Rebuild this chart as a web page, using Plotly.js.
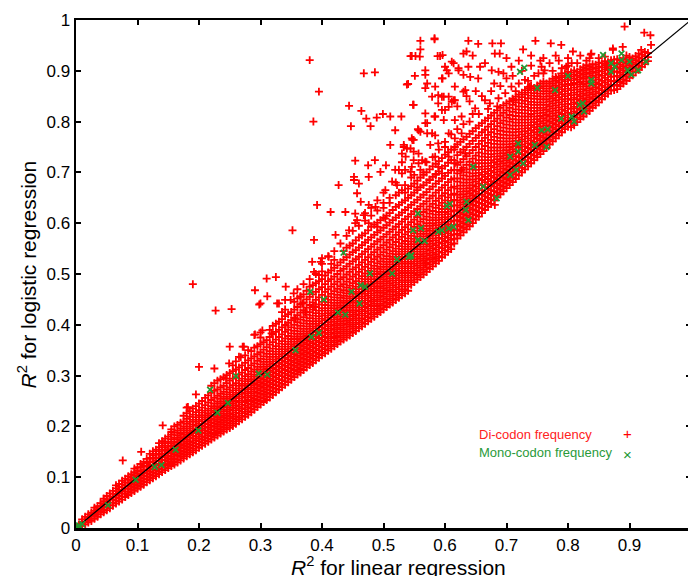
<!DOCTYPE html>
<html><head><meta charset="utf-8">
<script src="https://cdn.plot.ly/plotly-3.0.1.min.js"></script>
<style>html,body{margin:0;padding:0;overflow:hidden;background:#fff}#chart{width:700px;height:576px}</style>
</head><body><div id="chart"></div>
<script>
// Di-codon frequency: dense band, read column by column (x, then y values of the points in that column)
const diBandLow = [
[.01,.004,.008,.012,.017],
[.02,.011,.016,.021,.027],
[.03,.018,.024,.029,.034,.04],
[.04,.027,.033,.038,.043,.049],
[.05,.035,.041,.046,.052,.057,.063],
[.06,.044,.05,.056,.061,.067,.073],
[.07,.052,.058,.064,.069,.075,.081,.087],
[.08,.061,.067,.072,.078,.084,.09,.097],
[.09,.069,.075,.081,.087,.093,.099,.106],
[.10,.077,.083,.089,.095,.101,.107,.113,.12],
[.11,.085,.091,.097,.103,.109,.115,.122,.13],
[.12,.094,.1,.106,.112,.118,.124,.131,.138,.146],
[.13,.102,.108,.114,.12,.126,.132,.139,.146,.154],
[.14,.11,.116,.122,.128,.134,.14,.147,.154,.162,.171],
[.15,.118,.124,.13,.136,.142,.149,.155,.162,.17,.18],
[.16,.125,.131,.137,.144,.15,.157,.163,.17,.178,.188,.2],
[.17,.133,.14,.146,.152,.159,.165,.172,.179,.187,.196,.207],
[.18,.141,.148,.154,.161,.167,.174,.181,.188,.196,.205,.215,.226],
[.19,.149,.156,.162,.169,.176,.182,.189,.196,.204,.213,.223,.235],
[.20,.158,.164,.171,.177,.184,.191,.198,.205,.213,.222,.232,.245],
[.21,.166,.172,.179,.186,.192,.199,.206,.214,.222,.231,.242,.256],
[.22,.174,.181,.187,.194,.201,.208,.215,.222,.231,.24,.252,.266,.28],
[.23,.182,.189,.196,.203,.21,.217,.224,.232,.24,.249,.26,.273,.29],
[.24,.19,.197,.204,.211,.218,.225,.233,.241,.249,.258,.268,.28,.297],
[.25,.197,.205,.212,.219,.226,.234,.242,.25,.258,.267,.277,.29,.305],
[.26,.205,.213,.22,.227,.235,.242,.25,.258,.266,.275,.285,.297,.312,.328],
[.27,.214,.221,.229,.236,.243,.251,.259,.267,.275,.284,.294,.306,.32],
[.28,.223,.23,.238,.245,.252,.26,.268,.276,.284,.293,.303,.315,.33,.35],
[.29,.233,.24,.247,.254,.261,.269,.277,.285,.293,.302,.312,.324,.338,.355],
[.30,.243,.25,.257,.264,.271,.279,.287,.295,.303,.312,.322,.333,.346,.362,.375]
];
const diBandLowB = [
[.005,.003,.007],
[.015,.007,.012,.017,.022],
[.025,.014,.019,.024,.03],
[.035,.022,.027,.032,.037,.043],
[.045,.031,.036,.041,.047,.053,.058],
[.055,.039,.045,.05,.056,.062,.068],
[.065,.048,.054,.06,.066,.072,.078,.084],
[.075,.056,.062,.068,.074,.08,.086,.093],
[.085,.065,.071,.077,.083,.089,.095,.102],
[.095,.073,.079,.085,.091,.097,.103,.11,.117],
[.105,.081,.087,.093,.099,.105,.112,.119,.126],
[.115,.09,.096,.102,.108,.114,.121,.128,.136],
[.125,.098,.104,.11,.116,.122,.129,.136,.143,.151],
[.135,.106,.112,.118,.124,.131,.137,.144,.151,.159,.167],
[.145,.114,.12,.126,.133,.139,.146,.152,.159,.167,.176],
[.155,.122,.128,.134,.14,.147,.153,.16,.167,.175,.184,.194],
[.165,.129,.135,.142,.148,.155,.161,.168,.175,.183,.192,.203],
[.175,.137,.144,.15,.157,.163,.17,.177,.184,.192,.2,.21,.221],
[.185,.145,.152,.158,.165,.171,.178,.185,.192,.2,.209,.219,.23],
[.195,.153,.16,.166,.173,.18,.187,.194,.201,.209,.218,.228,.24],
[.205,.162,.168,.175,.181,.188,.195,.202,.21,.218,.227,.237,.25],
[.215,.17,.176,.183,.19,.197,.204,.211,.218,.226,.235,.247,.261],
[.225,.178,.185,.192,.199,.206,.213,.22,.228,.236,.245,.256,.27,.285],
[.235,.186,.193,.2,.207,.214,.221,.229,.237,.245,.254,.264,.277,.293],
[.245,.194,.201,.208,.215,.222,.23,.238,.246,.254,.263,.273,.285,.301],
[.255,.201,.209,.216,.223,.231,.238,.246,.254,.262,.271,.281,.294,.309,.32],
[.265,.21,.217,.225,.232,.239,.247,.255,.263,.271,.28,.29,.302,.316],
[.275,.219,.226,.234,.241,.248,.256,.264,.272,.28,.289,.299,.311,.325,.34],
[.285,.228,.235,.243,.25,.257,.265,.273,.281,.289,.298,.308,.32,.334,.348],
[.295,.238,.245,.252,.259,.266,.274,.282,.29,.298,.307,.317,.329,.342,.358]
];
const diBandMid = [
[.31,.252,.259,.266,.273,.281,.289,.297,.305,.313,.322,.332,.343,.356,.37],
[.32,.262,.269,.276,.283,.291,.299,.307,.315,.323,.332,.342,.353,.366,.381,.398],
[.33,.272,.279,.286,.293,.301,.309,.317,.325,.333,.342,.352,.363,.376,.39,.406],
[.34,.282,.289,.296,.304,.311,.319,.327,.335,.343,.352,.362,.373,.386,.4,.417,.43],
[.35,.292,.299,.306,.314,.321,.329,.337,.345,.353,.362,.372,.383,.395,.409,.425],
[.36,.302,.309,.316,.324,.331,.339,.347,.355,.363,.372,.382,.393,.405,.419,.435,.452],
[.37,.311,.318,.326,.333,.341,.349,.357,.365,.373,.382,.392,.403,.415,.429,.444,.46],
[.38,.321,.328,.336,.343,.351,.359,.367,.375,.383,.392,.402,.413,.425,.439,.455,.475],
[.39,.33,.338,.345,.353,.361,.369,.377,.385,.393,.402,.412,.423,.435,.449,.465,.482],
[.40,.34,.347,.355,.363,.371,.379,.387,.395,.403,.412,.422,.433,.445,.459,.474,.49,.505],
[.41,.349,.357,.365,.373,.381,.389,.397,.405,.414,.423,.433,.444,.456,.47,.486,.503],
[.42,.358,.366,.374,.382,.39,.398,.406,.415,.424,.433,.443,.454,.466,.48,.495,.512,.528],
[.43,.367,.375,.383,.391,.399,.407,.416,.425,.434,.443,.453,.464,.476,.49,.506,.523],
[.44,.375,.383,.391,.4,.408,.416,.425,.434,.443,.452,.462,.473,.485,.499,.515,.533,.552],
[.45,.384,.392,.4,.409,.417,.425,.434,.443,.452,.461,.471,.482,.495,.509,.525,.543,.56],
[.46,.393,.401,.409,.418,.426,.434,.443,.452,.461,.47,.48,.491,.504,.518,.534,.552,.572],
[.47,.402,.41,.418,.427,.435,.443,.452,.461,.47,.48,.49,.501,.514,.528,.544,.562,.58],
[.48,.412,.42,.428,.437,.445,.453,.462,.471,.48,.49,.5,.511,.524,.538,.554,.572,.593],
[.49,.421,.429,.437,.446,.454,.463,.472,.481,.49,.5,.51,.521,.534,.548,.564,.582,.601],
[.50,.43,.438,.446,.455,.463,.472,.481,.49,.499,.509,.519,.53,.543,.557,.573,.591,.611],
[.51,.44,.448,.456,.465,.473,.482,.491,.5,.509,.519,.529,.54,.553,.567,.583,.601,.62],
[.52,.449,.457,.465,.474,.483,.492,.501,.51,.519,.529,.539,.55,.563,.577,.593,.611,.632],
[.53,.458,.466,.475,.484,.493,.502,.511,.52,.529,.539,.549,.56,.573,.587,.603,.621,.641],
[.54,.467,.475,.484,.493,.502,.511,.52,.529,.539,.549,.559,.57,.583,.597,.613,.631,.65,.668],
[.55,.484,.493,.502,.511,.52,.529,.539,.549,.559,.569,.58,.593,.607,.623,.641,.66,.678],
[.56,.494,.503,.512,.521,.53,.539,.549,.559,.569,.579,.59,.603,.617,.633,.651,.671,.69],
[.57,.504,.513,.522,.531,.54,.549,.559,.569,.579,.589,.6,.613,.627,.643,.661,.68,.7],
[.58,.515,.524,.533,.542,.551,.56,.57,.58,.59,.6,.611,.624,.638,.654,.672,.691,.712],
[.59,.526,.535,.544,.553,.562,.571,.581,.591,.601,.611,.622,.635,.649,.665,.683,.702,.722],
[.60,.538,.547,.556,.565,.574,.583,.592,.602,.612,.622,.633,.645,.659,.675,.693,.713,.735]
];
const diBandMidB = [
[.305,.248,.255,.262,.269,.276,.284,.292,.3,.308,.317,.327,.338,.351,.366],
[.315,.257,.264,.271,.278,.286,.294,.302,.31,.318,.327,.337,.348,.361,.376,.39],
[.325,.267,.274,.281,.288,.296,.304,.312,.32,.328,.337,.347,.358,.371,.386,.402],
[.335,.277,.284,.291,.299,.306,.314,.322,.33,.338,.347,.357,.368,.381,.395,.411,.425],
[.345,.287,.294,.301,.309,.316,.324,.332,.34,.348,.357,.367,.378,.39,.404,.421],
[.355,.297,.304,.311,.319,.326,.334,.342,.35,.358,.367,.377,.388,.4,.414,.43,.445],
[.365,.306,.313,.321,.328,.336,.344,.352,.36,.368,.377,.387,.398,.41,.424,.44,.456],
[.375,.316,.323,.331,.338,.346,.354,.362,.37,.378,.387,.397,.408,.42,.434,.45,.467],
[.385,.325,.333,.34,.348,.356,.364,.372,.38,.388,.397,.407,.418,.43,.444,.46,.478],
[.395,.335,.342,.35,.358,.366,.374,.382,.39,.398,.407,.417,.428,.44,.454,.47,.486,.498],
[.405,.344,.352,.36,.368,.376,.384,.392,.4,.409,.418,.428,.439,.451,.465,.48,.497],
[.415,.353,.361,.369,.377,.385,.393,.401,.41,.419,.428,.438,.449,.461,.475,.49,.507,.52],
[.425,.362,.37,.378,.386,.394,.402,.411,.42,.429,.438,.448,.459,.471,.485,.5,.517],
[.435,.371,.379,.387,.395,.403,.412,.42,.429,.438,.447,.457,.468,.48,.494,.51,.528,.545],
[.445,.379,.387,.396,.404,.412,.42,.429,.438,.447,.456,.466,.477,.49,.504,.52,.538,.556],
[.455,.388,.396,.404,.413,.421,.429,.438,.447,.456,.465,.475,.486,.499,.513,.529,.547,.566],
[.465,.397,.405,.413,.422,.43,.438,.447,.456,.465,.475,.485,.496,.509,.523,.539,.557,.576],
[.475,.407,.415,.423,.432,.44,.448,.457,.466,.475,.485,.495,.506,.519,.533,.549,.567,.586],
[.485,.416,.424,.432,.441,.449,.458,.467,.476,.485,.495,.505,.516,.529,.543,.559,.577,.597],
[.495,.425,.433,.441,.45,.458,.467,.476,.485,.494,.504,.514,.525,.538,.552,.568,.586,.606],
[.505,.435,.443,.451,.46,.468,.477,.486,.495,.504,.514,.524,.535,.548,.562,.578,.596,.615],
[.515,.444,.452,.46,.469,.478,.487,.496,.505,.514,.524,.534,.545,.558,.572,.588,.606,.626],
[.525,.453,.461,.47,.479,.488,.497,.506,.515,.524,.534,.544,.555,.568,.582,.598,.616,.636],
[.535,.462,.47,.479,.488,.497,.506,.515,.524,.534,.544,.554,.565,.578,.592,.608,.626,.645,.66],
[.545,.479,.488,.497,.506,.515,.524,.534,.544,.554,.564,.575,.588,.602,.618,.636,.655,.673],
[.555,.489,.498,.507,.516,.525,.534,.544,.554,.564,.574,.585,.598,.612,.628,.646,.665,.684],
[.565,.499,.508,.517,.526,.535,.544,.554,.564,.574,.584,.595,.608,.622,.638,.656,.675,.695],
[.575,.51,.519,.528,.537,.546,.555,.565,.575,.585,.595,.606,.619,.633,.649,.667,.686,.706],
[.585,.521,.53,.539,.548,.557,.566,.576,.586,.596,.606,.617,.63,.644,.66,.678,.697,.717],
[.595,.533,.542,.551,.56,.569,.578,.587,.597,.607,.617,.628,.64,.654,.67,.688,.708,.728]
];
const diBandHigh = [
[.61,.549,.558,.567,.576,.585,.594,.603,.613,.623,.633,.644,.656,.67,.686,.704,.724,.745],
[.62,.57,.579,.588,.597,.606,.615,.625,.635,.645,.656,.668,.682,.698,.715,.734,.755],
[.63,.582,.591,.6,.609,.618,.627,.637,.647,.657,.668,.68,.694,.709,.726,.745,.765],
[.64,.594,.603,.612,.621,.63,.639,.649,.659,.669,.68,.692,.706,.721,.738,.756,.776],
[.65,.607,.616,.625,.634,.643,.652,.662,.672,.682,.693,.705,.718,.733,.75,.768,.787],
[.66,.62,.629,.638,.647,.656,.665,.675,.685,.695,.706,.718,.731,.746,.762,.779,.797],
[.67,.632,.641,.65,.659,.668,.677,.687,.697,.707,.718,.73,.743,.758,.774,.79,.807],
[.68,.645,.654,.663,.672,.681,.69,.7,.71,.72,.731,.743,.756,.77,.785,.801,.817],
[.69,.657,.666,.675,.684,.693,.702,.712,.722,.732,.743,.755,.768,.782,.797,.812,.827],
[.70,.669,.678,.687,.696,.705,.714,.724,.734,.744,.755,.767,.78,.794,.808,.822,.836],
[.71,.681,.69,.699,.708,.717,.726,.736,.746,.756,.767,.779,.792,.805,.819,.833,.845],
[.72,.694,.703,.712,.721,.73,.739,.749,.759,.769,.78,.792,.804,.817,.83,.843,.853],
[.73,.706,.715,.724,.733,.742,.751,.761,.771,.781,.792,.804,.816,.829,.841,.853,.862],
[.74,.718,.727,.736,.745,.754,.763,.773,.783,.793,.804,.815,.827,.839,.851,.862,.87],
[.75,.73,.739,.748,.757,.766,.775,.785,.795,.805,.816,.827,.838,.85,.861,.871],
[.76,.742,.751,.76,.769,.778,.787,.797,.807,.817,.827,.838,.849,.86,.87,.879],
[.77,.755,.764,.773,.782,.791,.8,.81,.82,.83,.84,.85,.86,.87,.879],
[.78,.767,.776,.785,.794,.803,.812,.822,.832,.842,.852,.862,.871,.88,.888],
[.79,.779,.788,.797,.806,.815,.824,.834,.844,.854,.864,.873,.882,.89],
[.80,.79,.799,.808,.817,.826,.835,.845,.855,.865,.874,.883,.891,.898],
[.81,.793,.802,.811,.82,.829,.838,.847,.857,.867,.876,.885,.893,.901],
[.82,.805,.814,.823,.832,.841,.85,.859,.869,.878,.887,.895,.903],
[.83,.816,.825,.834,.843,.852,.861,.87,.879,.888,.896,.904,.911],
[.84,.827,.836,.845,.854,.863,.872,.881,.89,.898,.906,.913],
[.85,.838,.847,.856,.865,.874,.883,.892,.9,.908,.916],
[.86,.85,.859,.868,.877,.886,.895,.903,.911,.919],
[.87,.861,.87,.879,.888,.897,.905,.913,.921],
[.88,.864,.872,.881,.89,.899,.907,.915,.923],
[.89,.875,.883,.892,.901,.909,.917,.925],
[.90,.886,.894,.903,.911,.919,.927],
[.91,.897,.905,.913,.921,.929],
[.92,.908,.916,.924,.932],
[.93,.919,.927,.935]
];
const diBandHighB = [
[.605,.544,.553,.562,.571,.58,.589,.598,.608,.618,.628,.639,.651,.665,.681,.699,.719,.74],
[.615,.56,.569,.578,.587,.596,.605,.615,.625,.635,.646,.658,.672,.688,.705,.724,.745],
[.625,.576,.585,.594,.603,.612,.621,.631,.641,.651,.662,.674,.688,.703,.72,.74,.76],
[.635,.588,.597,.606,.615,.624,.633,.643,.653,.663,.674,.686,.7,.715,.732,.75,.77],
[.645,.6,.609,.618,.627,.636,.645,.655,.665,.675,.686,.698,.712,.727,.744,.762,.781],
[.655,.613,.622,.631,.64,.649,.658,.668,.678,.688,.699,.711,.724,.739,.756,.773,.792],
[.665,.626,.635,.644,.653,.662,.671,.681,.691,.701,.712,.724,.737,.752,.768,.784,.802],
[.675,.638,.647,.656,.665,.674,.683,.693,.703,.713,.724,.736,.749,.764,.779,.795,.812],
[.685,.651,.66,.669,.678,.687,.696,.706,.716,.726,.737,.749,.762,.776,.791,.806,.822],
[.695,.663,.672,.681,.69,.699,.708,.718,.728,.738,.749,.761,.774,.788,.802,.817,.832],
[.705,.675,.684,.693,.702,.711,.72,.73,.74,.75,.761,.773,.786,.8,.813,.827,.84],
[.715,.687,.696,.705,.714,.723,.732,.742,.752,.762,.773,.785,.798,.811,.824,.838,.849],
[.725,.7,.709,.718,.727,.736,.745,.755,.765,.775,.786,.798,.81,.823,.836,.848,.857],
[.735,.712,.721,.73,.739,.748,.757,.767,.777,.787,.798,.81,.822,.834,.846,.857,.866],
[.745,.724,.733,.742,.751,.76,.769,.779,.789,.799,.81,.821,.833,.845,.856,.866],
[.755,.736,.745,.754,.763,.772,.781,.791,.801,.811,.822,.833,.844,.855,.866,.875],
[.765,.748,.757,.766,.775,.784,.793,.803,.813,.823,.833,.844,.855,.865,.875],
[.775,.761,.77,.779,.788,.797,.806,.816,.826,.836,.846,.856,.866,.875,.884],
[.785,.773,.782,.791,.8,.809,.818,.828,.838,.848,.858,.868,.877,.886],
[.795,.785,.794,.803,.812,.821,.83,.84,.85,.86,.87,.879,.887,.895],
[.805,.789,.798,.807,.816,.825,.834,.843,.852,.862,.872,.881,.889,.897],
[.815,.799,.808,.817,.826,.835,.844,.853,.863,.873,.882,.89,.898],
[.825,.81,.819,.828,.837,.846,.855,.864,.874,.884,.892,.9,.907],
[.835,.821,.83,.839,.848,.857,.866,.876,.886,.894,.902,.909],
[.845,.832,.841,.85,.859,.868,.877,.887,.896,.904,.912],
[.855,.844,.853,.862,.871,.88,.89,.899,.907,.915],
[.865,.855,.864,.873,.882,.892,.901,.909,.917],
[.875,.862,.871,.88,.889,.898,.906,.914,.922],
[.885,.87,.878,.887,.896,.904,.912,.92],
[.895,.88,.889,.898,.906,.914,.922,.93],
[.905,.891,.899,.908,.916,.924],
[.915,.902,.91,.918,.926,.934],
[.925,.913,.921,.929,.937]
];
// Di-codon frequency: scattered points above the band
const diOutliers = [
[.076,.133],[.106,.15],[.141,.202],[.141,.17],[.155,.189],[.182,.238],[.18,.237],[.195,.263],[.2,.317],[.225,.314],
[.227,.428],[.253,.431],[.19,.48],[.25,.357],[.268,.336],[.249,.324],[.244,.294],[.273,.357],[.265,.337],[.291,.468],
[.298,.44],[.31,.491],[.325,.494],[.311,.456],[.29,.38],[.30,.385],[.327,.442],[.341,.475],[.34,.449],[.354,.462],
[.271,.357],[.291,.381],[.303,.389],[.318,.383],[.341,.399],[.357,.412],[.373,.425],[.387,.435],[.30,.442],[.33,.442],
[.349,.449],[.365,.455],[.368,.442],[.352,.586],[.387,.567],[.422,.577],[.444,.586],[.454,.60],[.457,.606],[.476,.60],
[.49,.593],[.503,.609],[.40,.531],[.398,.524],[.384,.524],[.387,.504],[.411,.534],[.392,.636],[.414,.622],[.438,.622],
[.454,.619],[.468,.616],[.427,.675],[.452,.685],[.46,.678],[.457,.659],[.463,.642],[.476,.636],[.487,.632],[.503,.665],
[.514,.682],[.522,.675],[.454,.723],[.475,.714],[.486,.724],[.504,.714],[.511,.754],[.495,.701],[.533,.754],[.53,.737],
[.544,.747],[.549,.764],[.56,.78],[.519,.705],[.53,.698],[.544,.701],[.38,.921],[.395,.859],[.386,.80],[.468,.895],
[.486,.897],[.444,.831],[.464,.821],[.472,.806],[.479,.791],[.447,.791],[.489,.808],[.499,.815],[.511,.81],[.529,.81],
[.519,.783],[.476,.691],[.538,.873],[.551,.89],[.548,.833],[.544,.929],[.552,.929],[.559,.928],[.56,.959],[.56,.942],
[.568,.901],[.568,.892],[.568,.866],[.583,.964],[.588,.929],[.596,.931],[.584,.869],[.596,.885],[.547,.764],[.556,.785],
[.568,.797],[.571,.777],[.583,.81],[.576,.754],[.584,.773],[.589,.757],[.538,.747],[.557,.737],[.549,.724],[.563,.724],
[.525,.705],[.535,.705],[.452,.691],[.60,.908],[.611,.918],[.622,.901],[.63,.934],[.63,.892],[.616,.869],[.633,.862],
[.595,.849],[.606,.849],[.616,.842],[.589,.836],[.60,.823],[.616,.803],[.627,.81],[.598,.803],[.606,.777],[.616,.767],
[.627,.777],[.60,.75],[.616,.75],[.633,.737],[.606,.731],[.616,.718],[.627,.705],[.595,.698],[.583,.962],[.546,.929],
[.592,.929],[.638,.959],[.654,.953],[.635,.938],[.677,.954],[.691,.954],[.681,.934],[.689,.934],[.747,.959],[.772,.954],
[.789,.951],[.727,.942],[.808,.938],[.892,.987],[.924,.975],[.934,.97],[.837,.932],[.873,.944],[.889,.947],[.614,.915],
[.622,.905],[.638,.908],[.657,.908],[.676,.901],[.687,.898],[.708,.908],[.54,.874],[.571,.875],[.595,.885],[.603,.901],
[.606,.895],[.641,.888],[.654,.885],[.63,.859],[.579,.849],[.589,.852],[.598,.849],[.614,.842],[.549,.833],[.595,.823],
[.606,.829],[.611,.839],[.568,.816],[.584,.81],[.546,.767],[.557,.783],[.571,.797],[.579,.777],[.533,.75],[.549,.741],
[.536,.731],[.557,.718],[.546,.711],[.568,.721],[.584,.731],[.589,.711],[.649,.826],[.665,.842],[.673,.836],[.687,.846],
[.698,.856],[.711,.842],[.708,.869],[.73,.882],[.738,.869],[.752,.895],[.757,.908],[.762,.901],[.781,.885],[.789,.895],
[.797,.908],[.806,.915],[.919,.941],[.935,.951],[.873,.941],[.838,.934],[.86,.928],[.862,.911],[.525,.66],[.535,.675],
[.545,.69],[.555,.67],[.565,.70],[.575,.685],[.585,.695],[.53,.72],[.52,.68],[.51,.65],[.50,.66],[.49,.645],
[.48,.63],[.47,.62],[.50,.64],[.584,.531],[.681,.636],[.568,.521],[.72,.92],[.74,.93],[.70,.925],[.76,.925],
[.665,.915],[.645,.93],[.78,.93],[.82,.93],[.85,.925],
[.64,.8],[.655,.815],[.67,.825],[.685,.83],[.66,.85],[.675,.86],[.69,.87],[.7,.885],[.715,.86],[.72,.875],
[.735,.88],[.745,.89],[.76,.895],[.775,.9],[.79,.905],[.8,.91],[.815,.915],[.83,.92],[.62,.785],[.63,.795],
[.645,.815],[.61,.775],[.6,.76],[.59,.745],[.58,.73],[.57,.72],[.56,.705],[.55,.695],[.64,.84],[.65,.86],
[.62,.83],[.635,.85],[.68,.875],[.695,.895],[.71,.89],[.725,.9],[.74,.91],[.77,.915],[.785,.92],[.8,.925],
[.755,.92],[.835,.925],[.42,.545],[.43,.56],[.44,.575],[.45,.585],[.46,.595],[.47,.605],[.48,.615],[.49,.625],
[.5,.63],[.51,.64],[.52,.655],[.53,.665],[.40,.52],[.41,.535],[.38,.49],[.39,.5],[.36,.47],[.37,.48]
];
// Mono-codon frequency points
const monoPoints = [
[0,0],[.003,.002],[.006,.004],[.01,.008],[.005,.005],[.052,.045],[.097,.095],[.128,.12],[.139,.124],[.162,.154],
[.199,.192],[.23,.227],[.247,.246],[.218,.272],[.26,.299],[.297,.304],[.311,.302],[.357,.35],[.383,.376],[.395,.384],
[.381,.465],[.403,.45],[.435,.542],[.426,.424],[.438,.42],[.448,.465],[.461,.442],[.463,.478],[.47,.475],[.478,.501],
[.514,.501],[.522,.529],[.541,.534],[.545,.537],[.556,.619],[.548,.586],[.561,.59],[.567,.565],[.556,.567],[.589,.583],
[.595,.586],[.606,.59],[.614,.593],[.603,.634],[.608,.638],[.544,.535],[.635,.642],[.634,.626],[.638,.606],[.646,.711],
[.662,.672],[.684,.649],[.706,.695],[.716,.705],[.719,.741],[.719,.757],[.727,.718],[.706,.731],[.746,.754],[.757,.783],
[.767,.785],[.765,.75],[.789,.806],[.806,.81],[.81,.80],[.819,.833],[.824,.836],[.826,.82],[.838,.882],[.838,.875],
[.722,.898],[.729,.906],[.75,.866],[.779,.862],[.8,.89],[.857,.931],[.87,.898],[.876,.908],[.887,.921],[.887,.934],
[.9,.918],[.903,.892],[.897,.901],[.914,.901],[.927,.918],[.87,.915]
];
// reference line y = x
const diagX = [0, 1];
const diagY = [0, 1];
// ticks
const xTickVals = [0,.1,.2,.3,.4,.5,.6,.7,.8,.9];
const xTickText = ['0','0.1','0.2','0.3','0.4','0.5','0.6','0.7','0.8','0.9'];
const yTickVals = [0,.1,.2,.3,.4,.5,.6,.7,.8,.9,1];
const yTickText = ['0','0.1','0.2','0.3','0.4','0.5','0.6','0.7','0.8','0.9','1'];
const legendNames = ['Di-codon frequency','Mono-codon frequency'];

function fromColumns(cols, xs, ys){cols.forEach(c=>{for(let i=1;i<c.length;i++){xs.push(c[0]);ys.push(c[i]);}});}
const dx=[], dy=[];
[diBandLow,diBandLowB,diBandMid,diBandMidB,diBandHigh,diBandHighB].forEach(c=>fromColumns(c,dx,dy));
diOutliers.forEach(p=>{dx.push(p[0]);dy.push(p[1]);});
const mx = monoPoints.map(p=>p[0]), my = monoPoints.map(p=>p[1]);

const RED='#ff0000', GREEN='#229933';
const FONT='"Liberation Sans", Arial, sans-serif';
const traces = [
 {type:'scatter',mode:'markers',x:dx,y:dy,name:legendNames[0],hoverinfo:'skip',
  marker:{symbol:'cross-thin-open',size:5.7,color:RED,line:{color:RED,width:1.8}}},
 {type:'scatter',mode:'lines',x:diagX,y:diagY,hoverinfo:'skip',line:{color:'#000',width:1.3}},
 {type:'scatter',mode:'markers',x:mx,y:my,name:legendNames[1],hoverinfo:'skip',
  marker:{symbol:'x-thin-open',size:5.7,color:GREEN,line:{color:GREEN,width:1.7}}}
];
const axisCommon = {range:[0,1],ticks:'inside',ticklen:5,tickwidth:2,tickcolor:'#000',showline:true,linecolor:'#000',linewidth:2.5,
  mirror:'ticks',showgrid:false,zeroline:false,fixedrange:true,tickfont:{family:FONT,size:17,color:'#000'}};
const layout = {
 width:700,height:576,margin:{l:76,r:9,t:20,b:48},paper_bgcolor:'#fff',plot_bgcolor:'#fff',showlegend:false,
 xaxis:Object.assign({},axisCommon,{tickvals:xTickVals,ticktext:xTickText}),
 yaxis:Object.assign({},axisCommon,{tickvals:yTickVals,ticktext:yTickText}),
 annotations:[
  {xref:'paper',yref:'paper',x:0.524,y:-0.075,xanchor:'center',yanchor:'middle',showarrow:false,
   text:'<i>R</i><sup>2</sup> for linear regression',font:{family:FONT,size:21,color:'#000'}},
  {xref:'paper',yref:'paper',x:-0.079,y:0.5,xanchor:'center',yanchor:'middle',showarrow:false,textangle:-90,
   text:'<i>R</i><sup>2</sup> for logistic regression',font:{family:FONT,size:21,color:'#000'}},
  {xref:'paper',yref:'paper',x:0.652,y:0.184,xanchor:'left',yanchor:'middle',showarrow:false,
   text:legendNames[0],font:{family:FONT,size:13,color:'#ff2222'}},
  {xref:'paper',yref:'paper',x:0.652,y:0.148,xanchor:'left',yanchor:'middle',showarrow:false,
   text:legendNames[1],font:{family:FONT,size:13,color:'#2a9a3a'}},
  {xref:'paper',yref:'paper',x:0.896,y:0.186,xanchor:'center',yanchor:'middle',showarrow:false,
   text:'+',font:{family:FONT,size:15,color:RED}},
  {xref:'paper',yref:'paper',x:0.897,y:0.145,xanchor:'center',yanchor:'middle',showarrow:false,
   text:'×',font:{family:FONT,size:15,color:GREEN}}
 ]
};
Plotly.newPlot('chart',traces,layout,{staticPlot:true,displayModeBar:false});
</script></body></html>
